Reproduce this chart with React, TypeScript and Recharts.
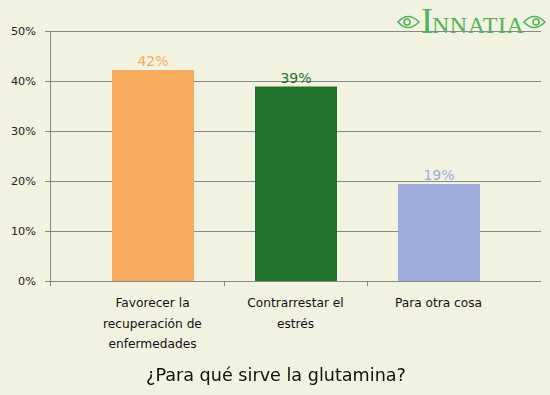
import React from 'react'
import { BarChart, Bar, XAxis, YAxis, CartesianGrid, Cell, LabelList } from 'recharts'

const categories = ['Favorecer la recuperación de enfermedades', 'Contrarrestar el estrés', 'Para otra cosa']
const tickLines = [
  ['Favorecer la', 'recuperación de', 'enfermedades'],
  ['Contrarrestar el', 'estrés'],
  ['Para otra cosa'],
]
const values = [42.2, 38.9, 19.4]
const colors = ['#f7ab5e', '#22722c', '#9eacdc']
const yTicks = [0, 10, 20, 30, 40, 50]
const bandTicks = [1, 2]
const title = '¿Para qué sirve la glutamina?'

const data = categories.map((name, i) => ({ name, value: values[i], idx: i }))

const font = '"DejaVu Sans", Verdana, sans-serif'

const YTick = (props: any) => {
  const { x, y, payload } = props
  const axisX = x + 14
  return (
    <g>
      <text x={x} y={y} dy={4} textAnchor="end" fill="#222" fontSize={11.3} fontFamily={font}>
        {payload.value}%
      </text>
      {payload.value === 0 && <line x1={axisX} y1={y} x2={axisX} y2={y + 5} stroke="#888" />}
    </g>
  )
}

const XTick = (props: any) => {
  const { x, y, index } = props
  const lines = tickLines[index] || []
  return (
    <text x={x} y={y} textAnchor="middle" fill="#111" fontSize={12.2} fontFamily={font}>
      {lines.map((l, i) => (
        <tspan key={i} x={x} y={y + 23 + i * 20.5}>{l}</tspan>
      ))}
    </text>
  )
}

const Logo = () => (
  <svg width={160} height={40} style={{ position: 'absolute', left: 392, top: 0 }}>
    <g fill="none" stroke="#52b35a" strokeWidth={1.6}>
      <path d="M6 22 Q16 11 27 22 Q16 33 6 22 Z" />
      <circle cx={15} cy={22} r={3} />
      <path d="M132 22 Q142 11 153 22 Q142 33 132 22 Z" />
      <circle cx={144} cy={22} r={3} />
    </g>
    <text x={29} y={33} fill="#52b35a" fontFamily='"Liberation Serif", serif' fontSize={36}>I</text>
    <text x={40} y={33} fill="#52b35a" fontFamily='"Liberation Serif", serif' fontSize={24} letterSpacing={0.5}>NNATIA</text>
  </svg>
)

export default function App() {
  return (
    <div style={{ position: 'fixed', left: 0, top: 0, width: 550, height: 395, background: '#f2f2e1' }}>
      <style>{`.recharts-wrapper line { shape-rendering: crispEdges; }`}</style>
      <BarChart width={550} height={395} data={data} margin={{ top: 31, right: 9, left: 0, bottom: 0 }}>
        <CartesianGrid vertical={false} stroke="#888" />
        <XAxis
          xAxisId="band"
          type="number"
          dataKey="idx"
          domain={[0, 3]}
          ticks={bandTicks}
          padding={{ left: 31, right: 31 }}
          height={1}
          axisLine={false}
          tick={() => <g />}
          tickLine={{ stroke: '#888' }}
          tickSize={5}
          stroke="#888"
        />
        <XAxis
          xAxisId="cat"
          dataKey="name"
          padding={{ left: 31, right: 31 }}
          height={113}
          axisLine={false}
          tickLine={false}
          tickSize={0}
          tick={<XTick />}
          interval={0}
        />
        <YAxis
          domain={[0, 50]}
          ticks={yTicks}
          width={50}
          stroke="#888"
          tickSize={5}
          tickMargin={9}
          tick={<YTick />}
        />
        <Bar dataKey="value" xAxisId="cat" barSize={82} isAnimationActive={false}>
          {data.map((d, i) => (
            <Cell key={d.name} fill={colors[i]} />
          ))}
          <LabelList
            dataKey="value"
            position="top"
            content={(p: any) => (
              <text
                x={p.x + p.width / 2}
                y={p.y - 4}
                textAnchor="middle"
                fill={colors[p.index]}
                fontSize={14}
                fontFamily={font}
              >
                {Math.round(p.value)}%
              </text>
            )}
          />
        </Bar>
      </BarChart>
      <div
        style={{
          position: 'absolute',
          left: 0,
          top: 365,
          width: 552,
          textAlign: 'center',
          fontFamily: font,
          fontSize: 17.6,
          color: '#111',
        }}
      >
        {title}
      </div>
      <Logo />
    </div>
  )
}
